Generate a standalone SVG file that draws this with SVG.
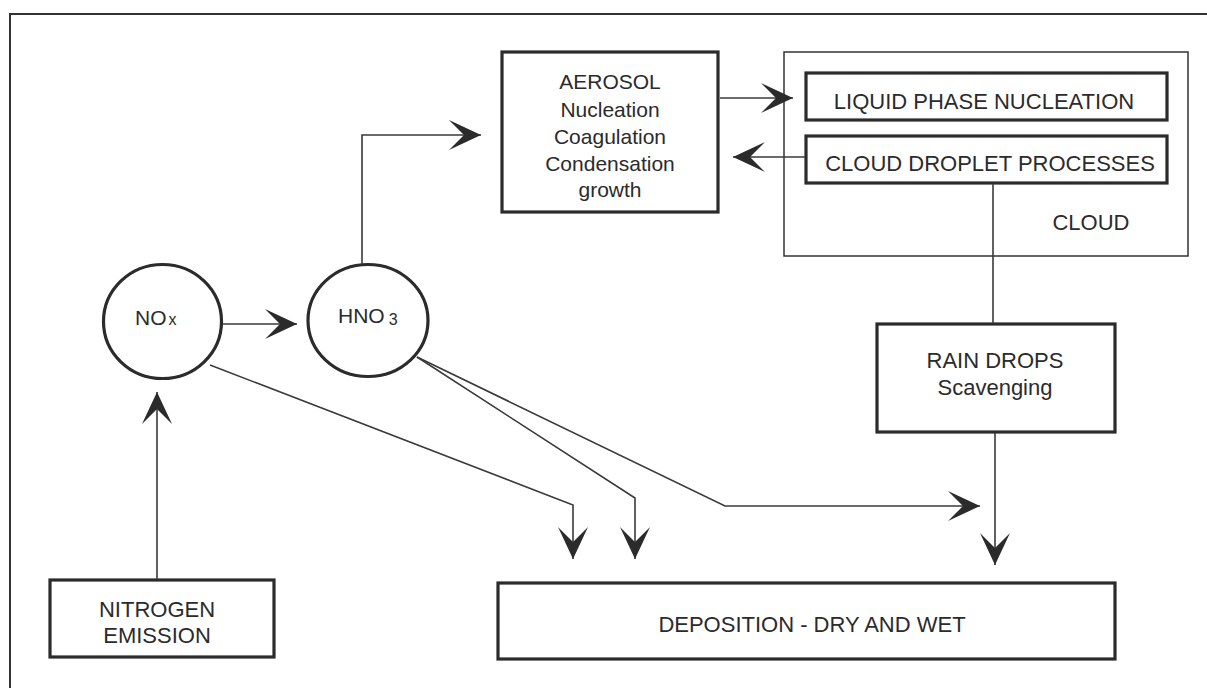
<svg xmlns="http://www.w3.org/2000/svg" width="1207" height="688" viewBox="0 0 1207 688">
<style>
text{font-family:"Liberation Sans",Arial,sans-serif;font-size:22px;fill:#2b2b2b;text-anchor:middle}
.box{fill:#fff;stroke:#2b2b2b;stroke-width:3.2}
.thin{fill:none;stroke:#333;stroke-width:1.5}
.con{fill:none;stroke:#3a3a3a;stroke-width:1.6}
</style>
<defs>
<marker id="ah" markerUnits="userSpaceOnUse" markerWidth="36" markerHeight="34" viewBox="-34 -17 36 34" refX="0" refY="0" orient="auto">
<path d="M0,0 L-32,-15 L-17,0 L-32,15 Z" fill="#2b2b2b"/>
</marker>
</defs>
<rect width="1207" height="688" fill="#fff"/>
<polyline id="frame" points="10,688 10,14 1207,14" fill="none" stroke="#333" stroke-width="2"/>

<g id="cloud">
<rect x="784" y="52" width="404" height="204" class="thin"/>
<text x="1091" y="230">CLOUD</text>
</g>
<g id="aerosol">
<rect x="502" y="52" width="216" height="160" class="box"/>
<text x="610" y="89" font-size="21" style="font-size:21px">AEROSOL</text>
<text x="610" y="117" style="font-size:21px">Nucleation</text>
<text x="610" y="144" style="font-size:21px">Coagulation</text>
<text x="610" y="171" style="font-size:21px">Condensation</text>
<text x="610" y="197" style="font-size:21px">growth</text>
</g>
<g id="liquid">
<rect x="806" y="73" width="361" height="47" class="box"/>
<text x="984" y="109">LIQUID PHASE NUCLEATION</text>
</g>
<g id="droplet">
<rect x="806" y="136" width="361" height="47" class="box"/>
<text x="990" y="171">CLOUD DROPLET PROCESSES</text>
</g>
<g id="rain">
<rect x="877" y="324" width="238" height="108" class="box"/>
<text x="995" y="368">RAIN DROPS</text>
<text x="995" y="395">Scavenging</text>
</g>
<g id="nox">
<ellipse cx="162.5" cy="321.5" rx="59" ry="57" class="box"/>
<text x="135" y="325" style="text-anchor:start;font-size:21px">NO<tspan dx="2" style="font-size:16px">x</tspan></text>
</g>
<g id="hno3">
<ellipse cx="368" cy="320.5" rx="60" ry="56" class="box"/>
<text x="338" y="323" style="text-anchor:start;font-size:21px">HNO<tspan dx="4" dy="2" style="font-size:16px">3</tspan></text>
</g>
<g id="nitrogen">
<rect x="50" y="580" width="224" height="77" class="box"/>
<text x="157" y="617">NITROGEN</text>
<text x="157" y="643">EMISSION</text>
</g>
<g id="deposition">
<rect x="498" y="583" width="617" height="76" class="box"/>
<text x="812" y="632">DEPOSITION - DRY AND WET</text>
</g>

<g id="connectors">
<path class="con" d="M157,579 V392" marker-end="url(#ah)"/>
<path class="con" d="M223,324 H297" marker-end="url(#ah)"/>
<path class="con" d="M362,264 V135 H481" marker-end="url(#ah)"/>
<path class="con" d="M720,98 H793" marker-end="url(#ah)"/>
<path class="con" d="M805,157 H733" marker-end="url(#ah)"/>
<path class="con" d="M993,184 V323"/>
<path class="con" d="M995,433 V565" marker-end="url(#ah)"/>
<path class="con" d="M210,365 L573,505 V559" marker-end="url(#ah)"/>
<path class="con" d="M417,357 L635,498 V559" marker-end="url(#ah)"/>
<path class="con" d="M417,357 L725,506 H980" marker-end="url(#ah)"/>
</g>
</svg>
